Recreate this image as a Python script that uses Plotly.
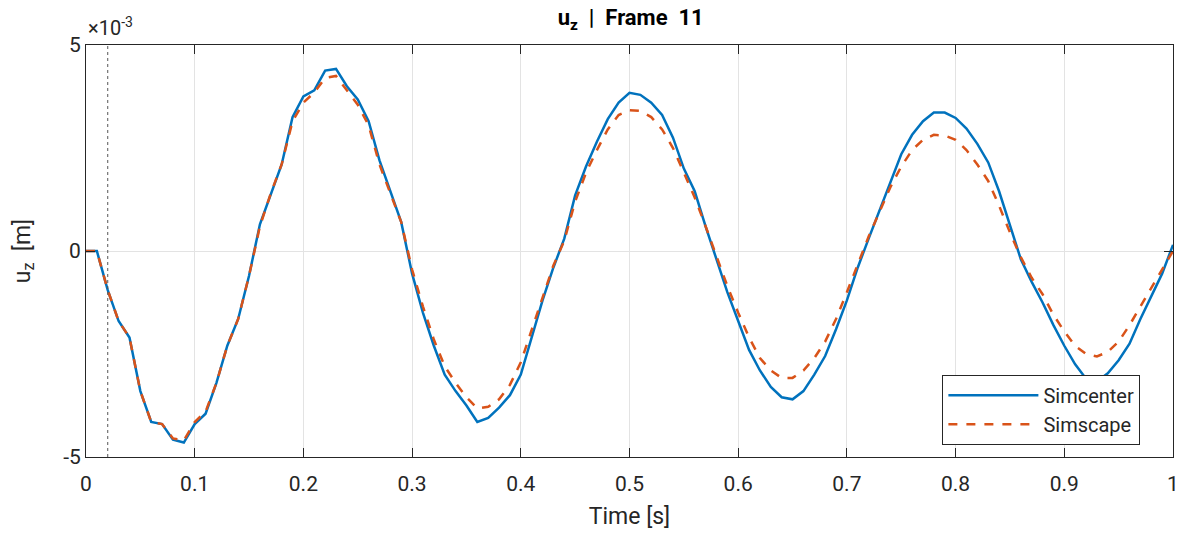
import plotly.graph_objects as go

time_s = [round(i * 0.01, 2) for i in range(101)]

simcenter_e3 = [
    0, 0, -0.95, -1.7, -2.1, -3.4, -4.15, -4.2, -4.58, -4.65,
    -4.2, -3.95, -3.2, -2.3, -1.65, -0.6, 0.65, 1.4, 2.1, 3.25,
    3.75, 3.9, 4.38, 4.42, 4.0, 3.68, 3.15, 2.2, 1.45, 0.7,
    -0.55, -1.5, -2.3, -3.0, -3.4, -3.75, -4.15, -4.05, -3.8, -3.5,
    -3.0, -2.1, -1.2, -0.4, 0.3, 1.35, 2.05, 2.65, 3.2, 3.6,
    3.84, 3.79, 3.6, 3.3, 2.75, 2.0, 1.45, 0.6, -0.2, -1.0,
    -1.7, -2.4, -2.9, -3.3, -3.55, -3.6, -3.4, -3.0, -2.55, -1.9,
    -1.2, -0.4, 0.3, 1.0, 1.7, 2.35, 2.82, 3.15, 3.36, 3.36,
    3.23, 2.97, 2.6, 2.15, 1.45, 0.6, -0.2, -0.75, -1.25, -1.8,
    -2.3, -2.75, -3.1, -3.17, -2.97, -2.65, -2.25, -1.65, -1.1, -0.55,
    0.15,
]

simscape_e3 = [
    0, 0, -0.95, -1.7, -2.1, -3.4, -4.15, -4.2, -4.55, -4.6,
    -4.15, -3.9, -3.2, -2.3, -1.65, -0.6, 0.6, 1.4, 2.1, 3.15,
    3.6, 3.85, 4.2, 4.25, 3.9, 3.55, 3.05, 2.1, 1.4, 0.7,
    -0.45, -1.35, -2.15, -2.8, -3.2, -3.55, -3.82, -3.78, -3.6, -3.25,
    -2.7, -1.9, -1.1, -0.35, 0.25, 1.2, 1.9, 2.45, 2.95, 3.3,
    3.42, 3.4, 3.25, 2.95, 2.5, 1.9, 1.3, 0.6, -0.15, -0.85,
    -1.5, -2.1, -2.6, -2.9, -3.08, -3.08, -2.9, -2.6, -2.2, -1.65,
    -1.0, -0.3, 0.35, 0.95, 1.55, 2.05, 2.45, 2.7, 2.82, 2.8,
    2.7, 2.45, 2.1, 1.7, 1.1, 0.45, -0.15, -0.65, -1.05, -1.55,
    -1.95, -2.3, -2.5, -2.56, -2.45, -2.2, -1.8, -1.35, -0.9, -0.45,
    0.0,
]

x_ticks = [0, 0.1, 0.2, 0.3, 0.4, 0.5, 0.6, 0.7, 0.8, 0.9, 1]
x_tick_labels = ["0", "0.1", "0.2", "0.3", "0.4", "0.5", "0.6", "0.7", "0.8", "0.9", "1"]
y_ticks = [-5, 0, 5]
y_tick_labels = ["-5", "0", "5"]
marker_time = 0.02

FONT = "Roboto, Liberation Sans, Arial, sans-serif"

fig = go.Figure()
fig.add_trace(go.Scatter(x=time_s, y=simcenter_e3, mode="lines", name="Simcenter",
                         line=dict(color="#0072BD", width=2.5)))
fig.add_trace(go.Scatter(x=time_s, y=simscape_e3, mode="lines", name="Simscape",
                         line=dict(color="#D95319", width=2.5, dash="dash")))

fig.add_shape(type="line", xref="x", yref="paper", x0=marker_time, x1=marker_time, y0=0, y1=1,
              line=dict(color="#555555", width=1, dash="dot"))

fig.update_layout(
    width=1179, height=533,
    margin=dict(l=86, r=6, t=45, b=76, autoexpand=False),
    paper_bgcolor="white", plot_bgcolor="white",
    font=dict(family=FONT, size=21, color="#262626"),
    title=dict(text="<b>u<sub>z</sub>  |  Frame  11</b>", x=0.535, xanchor="center",
               y=0.982, yanchor="top", font=dict(size=22, color="#000000")),
    showlegend=True,
    legend=dict(x=0.97, y=0.03, xanchor="right", yanchor="bottom",
                bgcolor="white", bordercolor="#262626", borderwidth=1,
                font=dict(size=20, color="#262626"), tracegroupgap=0,
                itemwidth=90),
    xaxis=dict(range=[0, 1], tickvals=x_ticks, ticktext=x_tick_labels,
               showgrid=True, gridcolor="#e3e3e3", gridwidth=1,
               showline=True, linecolor="#262626", linewidth=1, mirror="ticks",
               ticks="inside", ticklen=9, tickcolor="#262626",
               ticklabelstandoff=8,
               zeroline=False, automargin=False,
               title=dict(text="Time [s]", font=dict(size=23), standoff=12)),
    yaxis=dict(range=[-5, 5], tickvals=y_ticks, ticktext=y_tick_labels,
               showgrid=True, gridcolor="#e3e3e3", gridwidth=1,
               showline=True, linecolor="#262626", linewidth=1, mirror="ticks",
               ticks="inside", ticklen=9, tickcolor="#262626",
               zeroline=False, automargin=False,
               title=dict(text="u<sub>z</sub>  [m]", font=dict(size=23), standoff=26)),
)

fig.add_annotation(text="×10<sup>-3</sup>", xref="paper", yref="paper", x=0, y=1.0,
                   xanchor="left", yanchor="bottom", showarrow=False,
                   font=dict(size=20, color="#262626"), yshift=3)

fig.write_html("out.html")
